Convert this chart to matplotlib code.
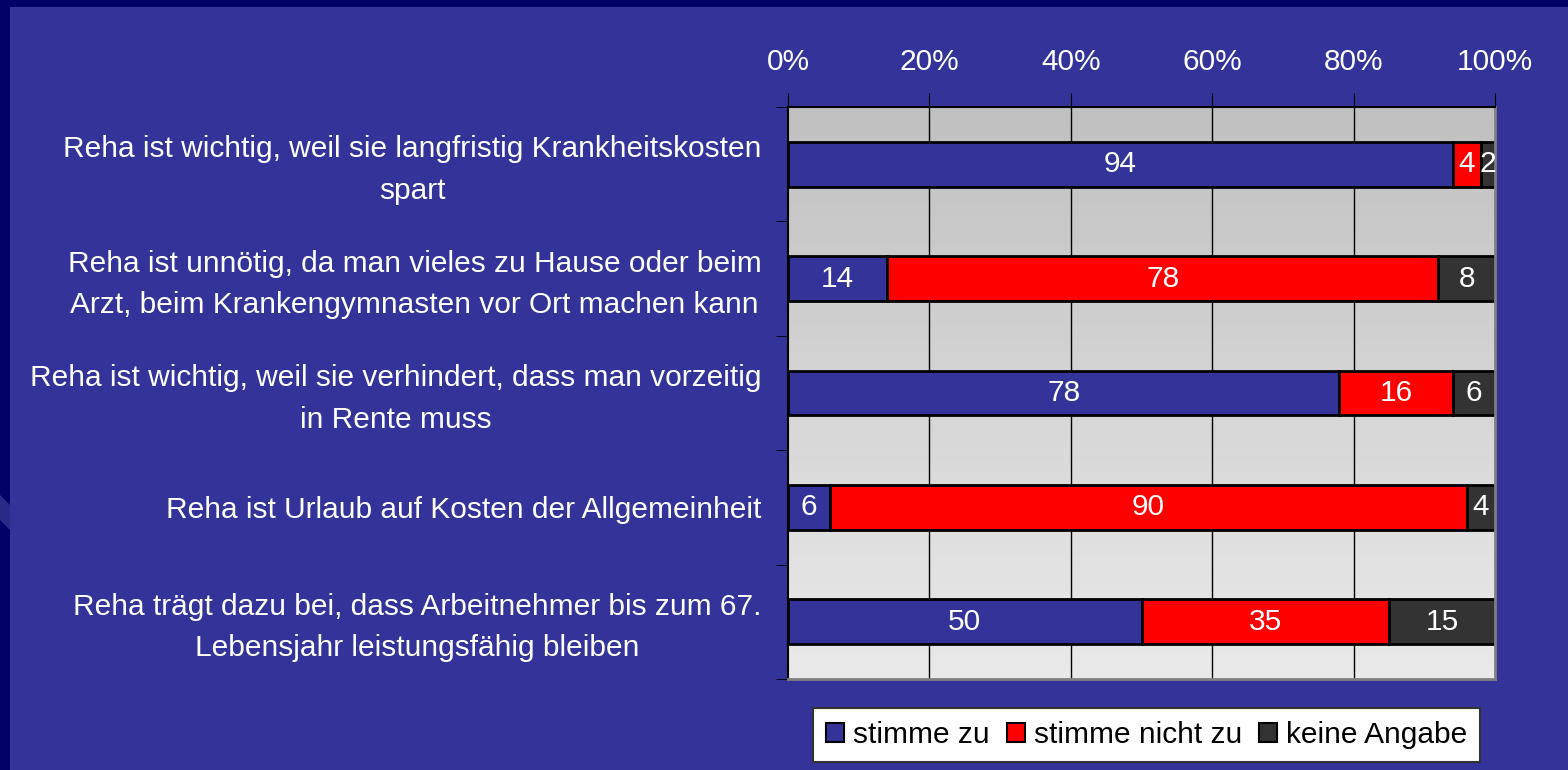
import numpy as np
import matplotlib.pyplot as plt
import matplotlib.transforms as mtransforms
from matplotlib.patches import Rectangle, Polygon

plt.rcParams['font.family'] = ['Liberation Sans', 'DejaVu Sans']

labels = [
    "Reha ist wichtig, weil sie langfristig Krankheitskosten\nspart",
    "Reha ist unnötig, da man vieles zu Hause oder beim\nArzt, beim Krankengymnasten vor Ort machen kann",
    "Reha ist wichtig, weil sie verhindert, dass man vorzeitig\nin Rente muss",
    "Reha ist Urlaub auf Kosten der Allgemeinheit",
    "Reha trägt dazu bei, dass Arbeitnehmer bis zum 67.\nLebensjahr leistungsfähig bleiben",
]
zu = [94, 14, 78, 6, 50]
nicht_zu = [4, 78, 16, 90, 35]
keine = [2, 8, 6, 4, 15]
series_names = ["stimme zu", "stimme nicht zu", "keine Angabe"]
colors = ["#333399", "#FF0000", "#333333"]
ticks = [0, 20, 40, 60, 80, 100]
fs = 21.5

W, H = 1568, 770
fig = plt.figure(figsize=(W / 100, H / 100), dpi=100)
fig.patch.set_facecolor("#333399")
# dark frame at top and left
fig.patches.append(Rectangle((0, 1 - 7 / H), 1, 7 / H, transform=fig.transFigure,
                             facecolor="#000066", edgecolor="none", zorder=0))
fig.patches.append(Rectangle((0, 0), 10 / W, 1, transform=fig.transFigure,
                             facecolor="#000066", edgecolor="none", zorder=0))
fig.patches.append(Polygon([(0, 1 - 495 / H), (10 / W, 1 - 505 / H), (10 / W, 1 - 530 / H),
                            (0, 1 - 520 / H)], closed=True, transform=fig.transFigure,
                           facecolor="#2a2a88", edgecolor="none", zorder=0))

ax = fig.add_axes([788 / W, 1 - 679 / H, (1495 - 788) / W, (679 - 107) / H])
ax.set_xlim(0, 100)

# gradient background
grad = np.linspace(0, 1, 256).reshape(-1, 1)
ax.imshow(grad, cmap=plt.matplotlib.colors.LinearSegmentedColormap.from_list(
    "g", ["#C0C0C0", "#EAEAEA"]), extent=[0, 100, len(labels) - 0.5, -0.5],
    aspect="auto", zorder=0)
ax.set_ylim(len(labels) - 0.5, -0.5)

for t in ticks[1:-1]:
    ax.axvline(t, color="black", lw=1, zorder=1)

y = np.arange(len(labels))
left = np.zeros(len(labels))
for vals, c in zip([zu, nicht_zu, keine], colors):
    ax.barh(y, vals, left=left, height=0.39, color=c, edgecolor="black", lw=2, zorder=2)
    for yi, l, v in zip(y, left, vals):
        ax.text(l + v / 2, yi, str(v), ha="center", va="center", color="white",
                fontsize=fs, zorder=3)
    left = left + np.array(vals)

ax.xaxis.tick_top()
ax.set_xticks(ticks)
ax.set_xticklabels([f"{t}%" for t in ticks], color="white", fontsize=fs)
ax.tick_params(axis="x", length=10, color="black", pad=12)
ax.set_yticks(y)
ax.set_yticklabels(labels, color="white", fontsize=fs, multialignment="center",
                   linespacing=1.62)
ax.tick_params(axis="y", length=0, pad=19)
off = mtransforms.ScaledTranslation(0, 4 / 100, fig.dpi_scale_trans)
for lab in ax.get_yticklabels():
    if "\n" in lab.get_text():
        lab.set_transform(lab.get_transform() + off)
ax.set_yticks(np.arange(len(labels) + 1) - 0.5, minor=True)
ax.tick_params(axis="y", which="minor", length=9, color="black")

for s in ["left", "top"]:
    ax.spines[s].set_color("black")
    ax.spines[s].set_linewidth(1.5)
for s in ["right", "bottom"]:
    ax.spines[s].set_color("#808080")
    ax.spines[s].set_linewidth(2)

handles = [Rectangle((0, 0), 1, 1, facecolor=c, edgecolor="black", lw=1.5) for c in colors]
leg = fig.legend(handles, series_names, loc="center", ncol=3,
                 bbox_to_anchor=((815 + 1478) / 2 / W, 1 - 735 / H),
                 fontsize=fs, frameon=True, fancybox=False, framealpha=1,
                 handlelength=0.6, handleheight=0.6, handletextpad=0.3,
                 columnspacing=0.57, borderpad=0.45, borderaxespad=0)
leg.get_frame().set_edgecolor("#333333")
leg.get_frame().set_linewidth(1.5)
leg.get_frame().set_facecolor("white")

fig.savefig("out.png", dpi=100, facecolor=fig.get_facecolor())
